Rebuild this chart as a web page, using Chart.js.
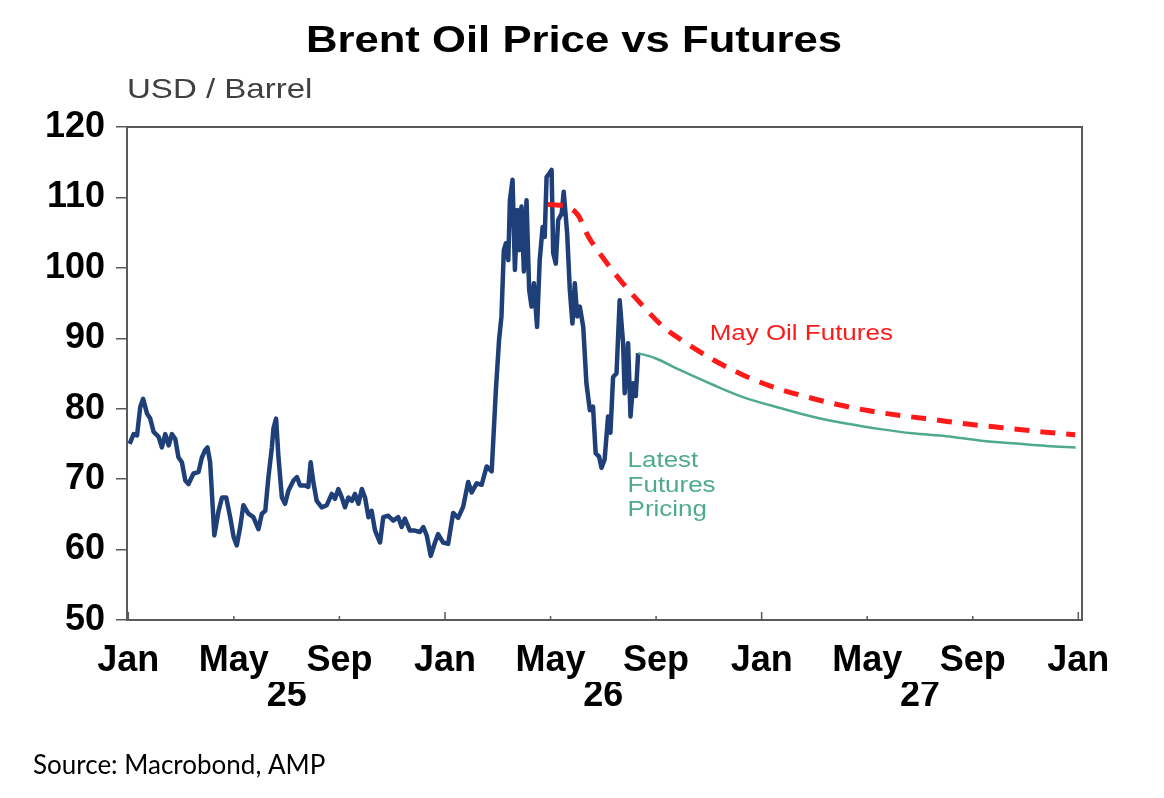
<!DOCTYPE html>
<html>
<head>
<meta charset="utf-8">
<title>Brent Oil Price vs Futures</title>
<script src="https://cdn.jsdelivr.net/npm/chart.js@4.4.1/dist/chart.umd.min.js"></script>
<style>
  html, body { margin: 0; padding: 0; background: #fff; }
  #wrap { position: relative; width: 1164px; height: 798px; }
</style>
</head>
<body>
<div id="wrap"><canvas id="oilChart"></canvas></div>
<script>
/* =========================
   DATA  (x = months since Jan 2025)
========================= */
const brentMonths = [
  0.05, 0.20, 0.33, 0.45, 0.56, 0.71, 0.83, 0.96, 1.15, 1.27, 1.40, 1.53, 1.65, 1.78, 1.90,
  2.03, 2.16, 2.28, 2.47, 2.66, 2.79, 2.91, 3.00, 3.10, 3.26, 3.42, 3.55, 3.71, 3.86, 3.99,
  4.11, 4.24, 4.36, 4.55, 4.74, 4.93, 5.06, 5.19, 5.31, 5.44, 5.50, 5.60, 5.69, 5.82, 5.94,
  6.07, 6.26, 6.39, 6.51, 6.70, 6.82, 6.91, 7.01, 7.14, 7.33, 7.52, 7.71, 7.83, 7.96, 8.09,
  8.21, 8.34, 8.47, 8.59, 8.72, 8.85, 8.97, 9.10, 9.22, 9.35, 9.54, 9.66, 9.85, 10.04, 10.23,
  10.36, 10.48, 10.67, 10.86, 11.05, 11.18, 11.31, 11.46, 11.62, 11.74, 11.93, 12.12, 12.31, 12.50, 12.69,
  12.88, 13.01, 13.20, 13.39, 13.58, 13.77, 13.93, 14.05, 14.14, 14.23, 14.31, 14.40, 14.46, 14.56, 14.65,
  14.74, 14.81, 14.90, 14.99, 15.09, 15.19, 15.28, 15.37, 15.49, 15.59, 15.70, 15.78, 15.85, 15.95, 16.04,
  16.10, 16.20, 16.29, 16.42, 16.50, 16.63, 16.73, 16.83, 16.92, 17.01, 17.11, 17.24, 17.36, 17.49, 17.61,
  17.71, 17.84, 17.93, 18.05, 18.18, 18.27, 18.37, 18.50, 18.62, 18.75, 18.81, 18.94, 19.03, 19.13, 19.23,
  19.32
]
const brentPrices = [
  75.0, 76.4, 76.2, 80.2, 81.4, 79.3, 78.6, 76.7, 76.0, 74.5, 76.4, 74.8, 76.4, 75.7, 73.1,
  72.4, 69.8, 69.3, 70.8, 71.0, 73.1, 74.1, 74.5, 72.4, 62.0, 65.5, 67.4, 67.4, 64.6, 61.8,
  60.6, 63.2, 66.3, 65.1, 64.6, 62.9, 65.1, 65.5, 70.3, 74.5, 77.2, 78.6, 73.1, 67.4, 66.5,
  68.4, 69.8, 70.3, 69.1, 69.1, 68.9, 72.4, 69.6, 66.9, 66.0, 66.3, 67.9, 67.2, 68.6, 67.4,
  66.0, 67.4, 66.9, 67.9, 66.5, 68.6, 67.4, 64.6, 65.5, 62.7, 61.0, 64.6, 64.8, 64.1, 64.6,
  63.2, 64.4, 62.7, 62.7, 62.5, 63.2, 62.0, 59.1, 61.0, 62.2, 61.0, 60.8, 65.2, 64.5, 66.1,
  69.6, 68.1, 69.4, 69.2, 71.8, 71.1, 82.7, 89.8, 93.1, 102.5, 103.5, 101.1, 109.6, 112.5, 99.7,
  108.2, 102.5, 108.7, 99.5, 109.6, 96.9, 94.5, 97.8, 91.6, 101.1, 105.8, 104.4, 112.9, 113.4, 113.9,
  102.1, 100.6, 106.8, 107.7, 110.8, 104.9, 96.9, 92.1, 97.8, 93.1, 94.5, 91.6, 83.6, 79.8, 80.3,
  73.7, 73.2, 71.6, 72.8, 78.9, 76.6, 84.5, 85.0, 95.4, 89.3, 82.2, 89.3, 78.9, 83.6, 81.8,
  87.9
]

const mayFutMonths = [15.90, 16.35, 16.61, 17.04, 17.41, 18.05, 18.74, 19.45, 20.28, 21.27, 22.28,
  23.29, 24.42, 25.69, 26.88, 28.08, 29.35, 30.61, 31.87, 33.13, 34.39, 35.88]
const mayFutPrices = [109.0, 108.9, 108.7, 107.5, 104.6, 101.1, 97.8, 94.8, 91.6, 89.0, 86.7,
  84.8, 83.1, 81.7, 80.6, 79.7, 79.0, 78.4, 77.8, 77.3, 76.8, 76.3]

const latestFutMonths = [19.32, 19.95, 20.9, 22.15, 23.4, 24.7, 25.9, 27.2, 28.5, 29.7, 31.0,
  32.25, 33.5, 34.8, 35.9]
const latestFutPrices = [87.9, 87.2, 85.5, 83.4, 81.5, 80.1, 78.9, 77.9, 77.1, 76.5, 76.1,
  75.5, 75.1, 74.7, 74.5]

const monthTicks = [0, 4, 8, 12, 16, 20, 24, 28, 32, 36]
const monthTickLabels = ["Jan", "May", "Sep", "Jan", "May", "Sep", "Jan", "May", "Sep", "Jan"]
const yearTicks = [6, 18, 30]
const yearTickLabels = ["25", "26", "27"]

const FONT = "Arial, 'Liberation Sans', sans-serif"
const STRETCH = 1.18

function pts(xs, ys){
  return xs.map((x, i) => ({ x: x, y: ys[i] }))
}

/* =========================
   TEXT + FRAME PLUGIN
========================= */
function stretchText(ctx, text, x, y, font, color, align){
  ctx.save()
  ctx.font = font
  ctx.fillStyle = color
  ctx.textAlign = align || "left"
  ctx.textBaseline = "alphabetic"
  ctx.translate(x, y)
  ctx.scale(STRETCH, 1)
  ctx.fillText(text, 0, 0)
  ctx.restore()
}

const decorPlugin = {
  id: "decor",
  afterDraw(chart){
    const ctx = chart.ctx
    const a = chart.chartArea
    const xs = chart.scales.x
    const ys = chart.scales.y

    // top + right frame
    ctx.save()
    ctx.strokeStyle = "#5a5a5a"
    ctx.lineWidth = 2
    ctx.beginPath()
    ctx.moveTo(a.left, a.top)
    ctx.lineTo(a.right, a.top)
    ctx.lineTo(a.right, a.bottom)
    ctx.stroke()

    // inward x ticks
    ctx.lineWidth = 1.5
    monthTicks.forEach((m, i) => {
      const px = xs.getPixelForValue(m)
      const len = monthTickLabels[i] === "Jan" ? 8 : 4
      ctx.beginPath()
      ctx.moveTo(px, a.bottom)
      ctx.lineTo(px, a.bottom - len)
      ctx.stroke()
    })
    ctx.restore()

    // titles
    stretchText(ctx, "Brent Oil Price vs Futures", chart.width / 2 - 8, 52,
      "bold 37px " + FONT, "#000", "center")
    stretchText(ctx, "USD / Barrel", a.left, 98, "28px " + FONT, "#404040")

    // annotations
    stretchText(ctx, "May Oil Futures", xs.getPixelForValue(22.03), ys.getPixelForValue(89.8),
      "22px " + FONT, "#ff1a1a")
    const lx = xs.getPixelForValue(18.92)
    const ly = ys.getPixelForValue(71.7)
    ;["Latest", "Futures", "Pricing"].forEach((t, i) => {
      stretchText(ctx, t, lx, ly + i * 24.5, "22px " + FONT, "#4fa98d")
    })

    // source
    ctx.save()
    ctx.font = "26px Lato, 'Open Sans', sans-serif"
    ctx.fillStyle = "#000"
    ctx.textAlign = "left"
    ctx.fillText("Source: Macrobond, AMP", 33, 774)
    ctx.restore()
  }
}

/* =========================
   CHART
========================= */
new Chart(document.getElementById("oilChart"), {
  type: "line",
  data: {
    datasets: [
      {
        label: "May Oil Futures",
        data: pts(mayFutMonths, mayFutPrices),
        borderColor: "#ff1a1a",
        borderWidth: 5,
        borderDash: [15, 11],
        cubicInterpolationMode: "monotone",
        pointRadius: 0,
        fill: false
      },
      {
        label: "Latest Futures Pricing",
        data: pts(latestFutMonths, latestFutPrices),
        borderColor: "#4fa98d",
        borderWidth: 2.5,
        cubicInterpolationMode: "monotone",
        pointRadius: 0,
        fill: false
      },
      {
        label: "Brent",
        data: pts(brentMonths, brentPrices),
        borderColor: "#1f3f78",
        borderWidth: 4.5,
        borderJoinStyle: "round",
        tension: 0,
        pointRadius: 0,
        fill: false
      }
    ]
  },
  options: {
    responsive: true,
    maintainAspectRatio: false,
    animation: false,
    layout: { padding: { left: 0, top: 127, right: 82, bottom: 0 } },
    plugins: {
      legend: { display: false },
      tooltip: { enabled: false }
    },
    scales: {
      x: {
        type: "linear",
        position: "bottom",
        weight: 0,
        min: -0.05,
        max: 36.14,
        afterBuildTicks: s => { s.ticks = monthTicks.map(v => ({ value: v })) },
        afterFit: s => { s.height = 62 },
        grid: { display: true, drawOnChartArea: false, drawTicks: false },
        border: { display: true, color: "#5a5a5a", width: 2 },
        ticks: {
          autoSkip: false,
          maxRotation: 0,
          padding: 19,
          color: "#000",
          font: { family: FONT, size: 36, weight: "bold" },
          callback: (v, i) => monthTickLabels[i]
        }
      },
      year: {
        type: "linear",
        position: "bottom",
        weight: 1,
        min: -0.05,
        max: 36.14,
        afterBuildTicks: s => { s.ticks = yearTicks.map(v => ({ value: v })) },
        afterFit: s => { s.height = 116 },
        grid: { display: false },
        border: { display: false },
        ticks: {
          autoSkip: false,
          maxRotation: 0,
          padding: -16,
          color: "#000",
          font: { family: FONT, size: 36, weight: "bold" },
          callback: (v, i) => yearTickLabels[i]
        }
      },
      y: {
        min: 50,
        max: 120,
        afterFit: s => { s.width = 127 },
        grid: { drawOnChartArea: false, drawTicks: true, tickLength: 11, color: "#5a5a5a", lineWidth: 1.5 },
        border: { display: true, color: "#5a5a5a", width: 2 },
        ticks: {
          stepSize: 10,
          padding: 11,
          color: "#000",
          font: { family: FONT, size: 36, weight: "bold" }
        }
      }
    }
  },
  plugins: [decorPlugin]
})
</script>
</body>
</html>
